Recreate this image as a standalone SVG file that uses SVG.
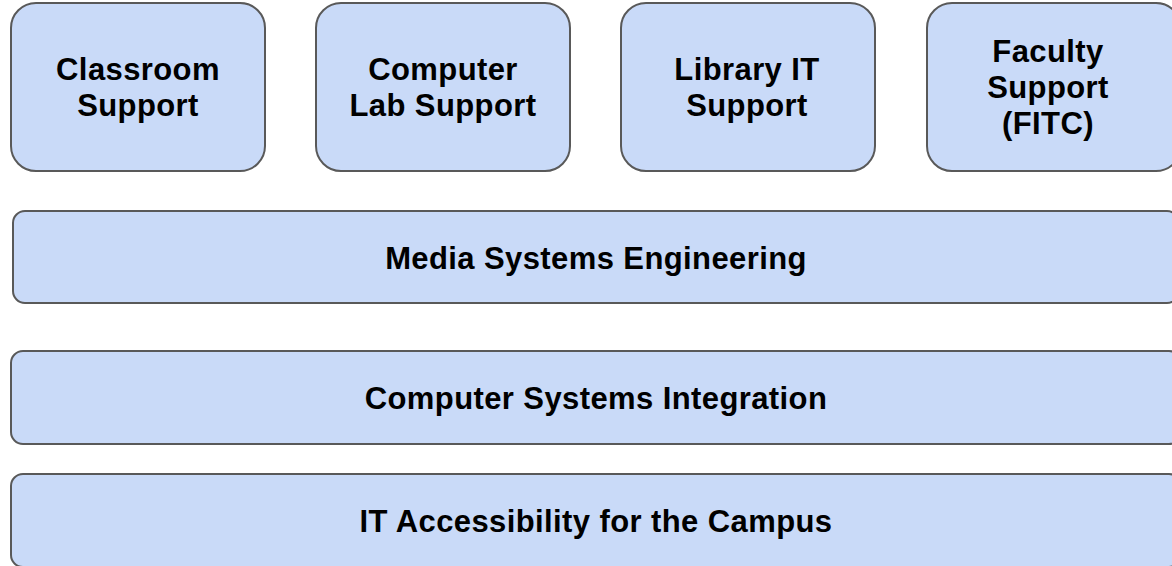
<svg xmlns="http://www.w3.org/2000/svg" width="1172" height="566" viewBox="0 0 1172 566">
<style>
.box{fill:#c9daf8;stroke:#595959;stroke-width:2}
.lbl{font-family:"Liberation Sans",Arial,sans-serif;font-weight:bold;font-size:31px;letter-spacing:0.4px;fill:#000;text-anchor:middle}
</style>
<rect width="1172" height="566" fill="#fff"/>
<g id="node-classroom">
<rect class="box" x="11" y="3" width="254" height="168" rx="25"/>
<text class="lbl" x="138" y="80">Classroom</text>
<text class="lbl" x="138" y="116">Support</text>
</g>
<g id="node-computer-lab">
<rect class="box" x="316" y="3" width="254" height="168" rx="25"/>
<text class="lbl" x="443" y="80">Computer</text>
<text class="lbl" x="443" y="116">Lab Support</text>
</g>
<g id="node-library">
<rect class="box" x="621" y="3" width="254" height="168" rx="25"/>
<text class="lbl" x="747" y="80">Library IT</text>
<text class="lbl" x="747" y="116">Support</text>
</g>
<g id="node-faculty">
<rect class="box" x="927" y="3" width="254" height="168" rx="25"/>
<text class="lbl" x="1048" y="62">Faculty</text>
<text class="lbl" x="1048" y="98">Support</text>
<text class="lbl" x="1048" y="134">(FITC)</text>
</g>
<g id="node-media">
<rect class="box" x="13" y="211" width="1166" height="92" rx="12"/>
<text class="lbl" x="596" y="269">Media Systems Engineering</text>
</g>
<g id="node-csi">
<rect class="box" x="11" y="351" width="1170" height="93" rx="12"/>
<text class="lbl" x="596" y="409">Computer Systems Integration</text>
</g>
<g id="node-ita">
<rect class="box" x="11" y="474" width="1170" height="93" rx="12"/>
<text class="lbl" x="596" y="532">IT Accessibility for the Campus</text>
</g>
<g id="connectors"></g>
</svg>
